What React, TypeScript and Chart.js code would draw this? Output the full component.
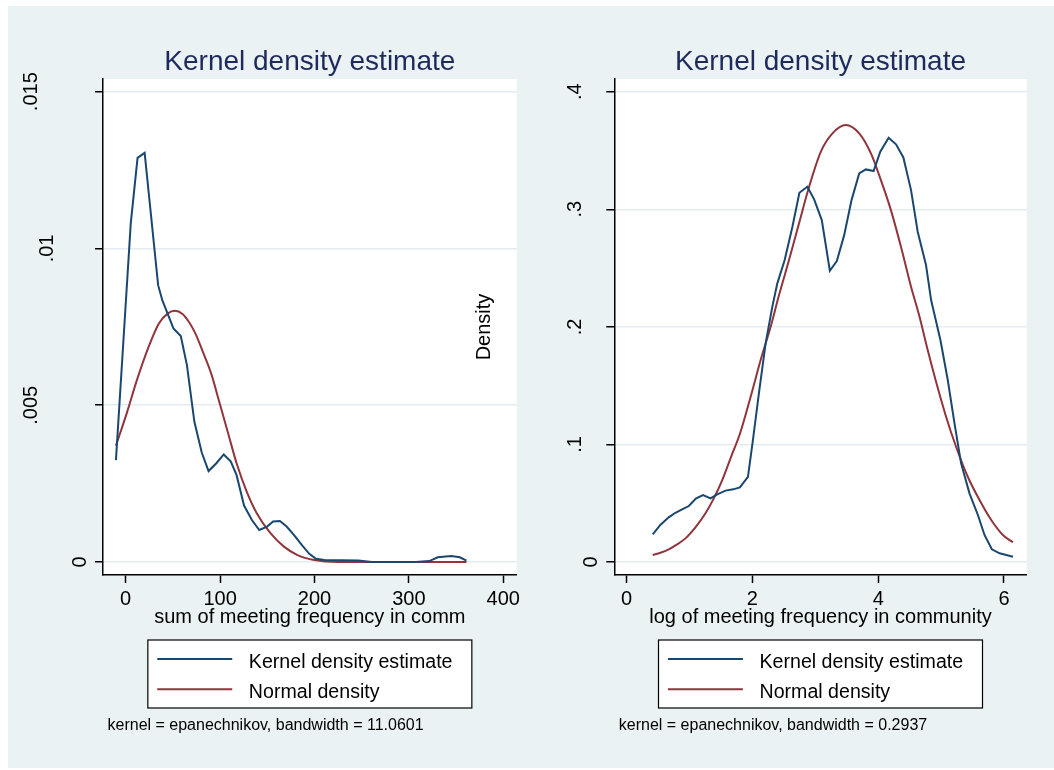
import React, { useEffect, useRef } from "react";
import { Chart, registerables } from "chart.js";

Chart.register(...registerables);

// ---------- data ----------
const leftKdeX = [-10.3, 5.4, 12.6, 20.1, 34.4, 38.8, 50.6, 58.4, 64.9, 72.8, 80.6, 87.8, 96.1, 103.9, 111.4, 117.5, 125.4, 133.7, 141.5, 149.8, 156.2, 163.4, 170.5, 178.4, 186.7, 194.5, 201.7, 210.6, 246.5, 260.8, 307.3, 321.6, 330.6, 344.9, 353.9, 361];
const leftKdeY = [0.00325, 0.0108, 0.01289, 0.01305, 0.00883, 0.00835, 0.00745, 0.00721, 0.00628, 0.00447, 0.00349, 0.0029, 0.00315, 0.00343, 0.0032, 0.00277, 0.0018, 0.00134, 0.00102, 0.00113, 0.00129, 0.00131, 0.00113, 0.00086, 0.00054, 0.00026, 0.0001, 0.00006, 0.00005, 0.0, 0.0, 0.00003, 0.00015, 0.00019, 0.00015, 0.00004];

const leftNormX = [-10.3, 1.1, 11.9, 24.4, 35.2, 44.8, 52, 60.2, 67.4, 73.8, 81.7, 90.7, 99.6, 108.6, 117.5, 128.3, 139, 153.4, 167.7, 182, 199.9, 225, 361];
const leftNormY = [0.00371, 0.00474, 0.0058, 0.00687, 0.00761, 0.00793, 0.00801, 0.00791, 0.00764, 0.00729, 0.00671, 0.006, 0.00506, 0.0041, 0.00315, 0.00224, 0.00155, 0.00092, 0.00049, 0.00022, 0.00006, 0.0, 0.0];

const rightKdeX = [0.415, 0.536, 0.669, 0.776, 0.882, 0.989, 1.105, 1.216, 1.334, 1.44, 1.573, 1.695, 1.801, 1.929, 2.008, 2.103, 2.21, 2.316, 2.396, 2.513, 2.636, 2.747, 2.874, 2.981, 3.103, 3.231, 3.342, 3.459, 3.576, 3.698, 3.804, 3.927, 4.033, 4.166, 4.283, 4.4, 4.522, 4.628, 4.76, 4.841, 4.989, 5.106, 5.213, 5.318, 5.451, 5.585, 5.69, 5.807, 5.93, 6.143];
const rightKdeY = [0.0236, 0.0315, 0.038, 0.0419, 0.0448, 0.0476, 0.0541, 0.057, 0.0541, 0.0576, 0.0607, 0.0618, 0.0635, 0.0725, 0.1037, 0.1434, 0.186, 0.217, 0.237, 0.2568, 0.2851, 0.314, 0.3191, 0.3084, 0.2908, 0.2477, 0.256, 0.278, 0.3078, 0.3305, 0.3339, 0.3325, 0.3489, 0.3608, 0.3552, 0.3441, 0.3163, 0.2809, 0.2526, 0.2228, 0.1888, 0.1548, 0.1179, 0.0839, 0.0584, 0.04, 0.023, 0.0108, 0.0074, 0.0045];

const rightNormX = [0.415, 0.536, 0.669, 0.803, 0.935, 1.094, 1.254, 1.386, 1.52, 1.652, 1.812, 1.972, 2.131, 2.29, 2.423, 2.582, 2.741, 2.901, 3.087, 3.273, 3.485, 3.698, 3.884, 4.043, 4.202, 4.362, 4.522, 4.655, 4.787, 4.92, 5.079, 5.238, 5.424, 5.611, 5.797, 5.982, 6.143];
const rightNormY = [0.006, 0.0079, 0.0108, 0.015, 0.0201, 0.0295, 0.0414, 0.0541, 0.0697, 0.0882, 0.1108, 0.1406, 0.1718, 0.2, 0.227, 0.2568, 0.288, 0.3191, 0.3489, 0.3645, 0.3716, 0.3645, 0.3475, 0.3248, 0.2993, 0.2681, 0.2341, 0.209, 0.1803, 0.1533, 0.1236, 0.098, 0.0725, 0.0527, 0.0357, 0.023, 0.0168];

const leftXTicks = [0, 100, 200, 300, 400];
const leftYTicks = [0, 0.005, 0.01, 0.015];
const leftYTickLabels = ["0", ".005", ".01", ".015"];
const rightXTicks = [0, 2, 4, 6];
const rightYTicks = [0, 0.1, 0.2, 0.3, 0.4];
const rightYTickLabels = ["0", ".1", ".2", ".3", ".4"];

const titleText = "Kernel density estimate";
const leftXTitle = "sum of meeting frequency in comm";
const rightXTitle = "log of meeting frequency in community";
const rightYTitle = "Density";
const seriesNames = ["Kernel density estimate", "Normal density"];
const leftNote = "kernel = epanechnikov, bandwidth = 11.0601";
const rightNote = "kernel = epanechnikov, bandwidth = 0.2937";

// ---------- styles ----------
const FONT = "'Liberation Sans', Arial, Helvetica, sans-serif";
const KDE_COLOR = "#1A476F";
const NORM_COLOR = "#90353B";
const TITLE_COLOR = "#1E2A5C";
const BG = "#EAF2F3";
const GRID = "#E3ECEF";

const decorPlugin = {
  id: "stataDecor",
  beforeDraw(chart: any) {
    const { ctx, chartArea: a } = chart;
    ctx.save();
    ctx.fillStyle = "#ffffff";
    ctx.fillRect(a.left, a.top, a.right - a.left, a.bottom - a.top);
    ctx.restore();
  },
  afterDraw(chart: any, _a: any, o: any) {
    const { ctx, chartArea: a } = chart;
    const cx = (a.left + a.right) / 2;
    ctx.save();
    // title
    ctx.fillStyle = TITLE_COLOR;
    ctx.font = `28px ${FONT}`;
    ctx.textAlign = "center";
    ctx.textBaseline = "alphabetic";
    ctx.fillText(o.title, cx, a.top - 9);

    // y tick labels (rotated, Stata-style offsets)
    const ys = chart.scales.y;
    ctx.fillStyle = "#000";
    ctx.font = `20px ${FONT}`;
    o.yTicks.forEach((v: number, i: number) => {
      const lab = o.yLabels[i];
      const py = ys.getPixelForValue(v);
      const px = a.left - (6 + 16.5 * lab.length);
      ctx.save();
      ctx.translate(px, py);
      ctx.rotate(-Math.PI / 2);
      ctx.textAlign = "center";
      ctx.textBaseline = "middle";
      ctx.fillText(lab, 0, 0);
      ctx.restore();
    });

    // y title
    if (o.yTitle) {
      ctx.save();
      ctx.translate(a.left - 129.6, (a.top + a.bottom) / 2);
      ctx.rotate(-Math.PI / 2);
      ctx.textAlign = "center";
      ctx.textBaseline = "middle";
      ctx.fillText(o.yTitle, 0, 0);
      ctx.restore();
    }

    // x title
    ctx.textAlign = "center";
    ctx.textBaseline = "alphabetic";
    ctx.fillText(o.xTitle, cx, a.bottom + 48);

    // legend box
    const bw = 324;
    const bh = 68;
    const bl = cx - bw / 2;
    const bt = a.bottom + 65;
    ctx.fillStyle = "#fff";
    ctx.fillRect(bl, bt, bw, bh);
    ctx.strokeStyle = "#000";
    ctx.lineWidth = 1.2;
    ctx.strokeRect(bl, bt, bw, bh);
    const rows = [bt + 19, bt + 49.3];
    const cols = [KDE_COLOR, NORM_COLOR];
    o.names.forEach((n: string, i: number) => {
      ctx.strokeStyle = cols[i];
      ctx.lineWidth = 2;
      ctx.beginPath();
      ctx.moveTo(bl + 9.4, rows[i]);
      ctx.lineTo(bl + 84.4, rows[i]);
      ctx.stroke();
      ctx.fillStyle = "#000";
      ctx.font = `19.6px ${FONT}`;
      ctx.textAlign = "left";
      ctx.textBaseline = "alphabetic";
      ctx.fillText(n, bl + 101, rows[i] + 8.5);
    });

    // note
    ctx.font = `16px ${FONT}`;
    ctx.fillStyle = "#000";
    ctx.textAlign = "left";
    ctx.fillText(o.note, a.left + 4.5, a.bottom + 155);
    ctx.restore();
  },
};

type PanelProps = {
  width: number;
  left: number;
  yAxisWidth: number;
  padRight: number;
  xMin: number;
  xMax: number;
  yMin: number;
  yMax: number;
  xTicks: number[];
  yTicks: number[];
  yLabels: string[];
  kdeX: number[];
  kdeY: number[];
  normX: number[];
  normY: number[];
  xTitle: string;
  yTitle?: string;
  note: string;
};

function Panel(p: PanelProps) {
  const ref = useRef<HTMLCanvasElement | null>(null);
  useEffect(() => {
    if (!ref.current) return;
    const chart = new Chart(ref.current, {
      type: "line",
      data: {
        datasets: [
          {
            label: seriesNames[0],
            data: p.kdeX.map((x, i) => ({ x, y: p.kdeY[i] })),
            borderColor: KDE_COLOR,
            borderWidth: 2,
            pointRadius: 0,
            tension: 0,
            fill: false,
          },
          {
            label: seriesNames[1],
            data: p.normX.map((x, i) => ({ x, y: p.normY[i] })),
            borderColor: NORM_COLOR,
            borderWidth: 2,
            pointRadius: 0,
            cubicInterpolationMode: "monotone",
            fill: false,
          },
        ],
      },
      options: {
        responsive: false,
        animation: false,
        devicePixelRatio: 1,
        layout: { padding: { left: 0, top: 79, right: p.padRight, bottom: 0 } },
        plugins: {
          legend: { display: false },
          tooltip: { enabled: false },
          title: { display: false },
          stataDecor: {
            title: titleText,
            yTicks: p.yTicks,
            yLabels: p.yLabels,
            xTitle: p.xTitle,
            yTitle: p.yTitle,
            names: seriesNames,
            note: p.note,
          },
        } as any,
        scales: {
          x: {
            type: "linear",
            min: p.xMin,
            max: p.xMax,
            afterBuildTicks: (s: any) => {
              s.ticks = p.xTicks.map((v) => ({ value: v }));
            },
            afterFit: (s: any) => {
              s.height = 770 - 575;
            },
            ticks: {
              color: "#000",
              font: { family: FONT, size: 20 },
              padding: 4,
              maxRotation: 0,
              autoSkip: false,
              callback: (v: any) => String(v),
            },
            grid: {
              drawOnChartArea: false,
              drawTicks: true,
              tickLength: 8,
              tickColor: "#000",
              tickWidth: 1.5,
            },
            border: { display: true, color: "#000", width: 1.5 },
          },
          y: {
            type: "linear",
            min: p.yMin,
            max: p.yMax,
            afterBuildTicks: (s: any) => {
              s.ticks = p.yTicks.map((v) => ({ value: v }));
            },
            afterFit: (s: any) => {
              s.width = p.yAxisWidth;
            },
            ticks: { display: false },
            grid: {
              color: GRID,
              lineWidth: 1.5,
              drawTicks: true,
              tickLength: 8,
              tickColor: "#000",
              tickWidth: 1.5,
            },
            border: { display: true, color: "#000", width: 1.5 },
          },
        },
      },
      plugins: [decorPlugin as any],
    });
    return () => chart.destroy();
  }, []);
  return (
    <canvas
      ref={ref}
      width={p.width}
      height={770}
      style={{ position: "absolute", left: p.left, top: 0, width: p.width, height: 770, display: "block" }}
    />
  );
}

export default function App() {
  return (
    <div style={{ position: "relative", width: 1054, height: 770, overflow: "hidden" }}>
      <style>{`body{margin:0;}`}</style>
      <div style={{ position: "absolute", left: 8, top: 6, width: 1046, height: 762, background: BG }} />
      <Panel
        width={530}
        left={0}
        yAxisWidth={103}
        padRight={13.3}
        xMin={-24.0}
        xMax={414.2}
        yMin={-0.000415}
        yMax={0.015405}
        xTicks={leftXTicks}
        yTicks={leftYTicks}
        yLabels={leftYTickLabels}
        kdeX={leftKdeX}
        kdeY={leftKdeY}
        normX={leftNormX}
        normY={leftNormY}
        xTitle={leftXTitle}
        note={leftNote}
      />
      <Panel
        width={614}
        left={440}
        yAxisWidth={174.3}
        padRight={27.3}
        xMin={-0.196}
        xMax={6.361}
        yMin={-0.01105}
        yMax={0.4108}
        xTicks={rightXTicks}
        yTicks={rightYTicks}
        yLabels={rightYTickLabels}
        kdeX={rightKdeX}
        kdeY={rightKdeY}
        normX={rightNormX}
        normY={rightNormY}
        xTitle={rightXTitle}
        yTitle={rightYTitle}
        note={rightNote}
      />
    </div>
  );
}
